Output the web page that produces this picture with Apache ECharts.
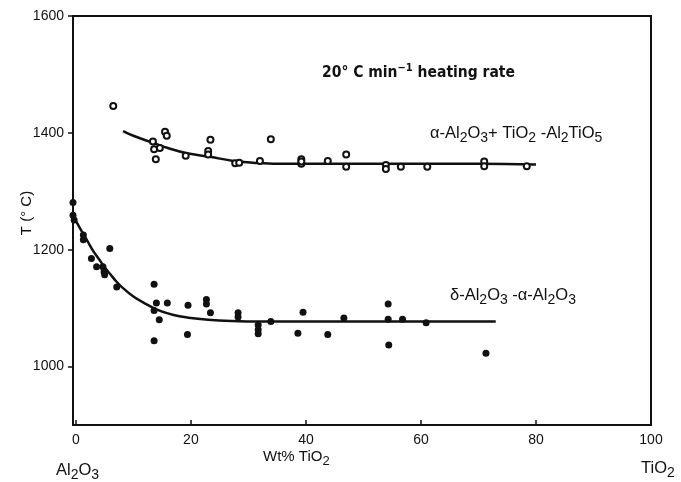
<!DOCTYPE html>
<html><head><meta charset="utf-8">
<script src="https://cdn.jsdelivr.net/npm/echarts@6/dist/echarts.min.js"></script>
<style>html,body{margin:0;padding:0;background:#fff}#c{width:681px;height:482px}</style>
</head><body><div id="c"></div>
<script>
// Open circles: α-Al2O3 + TiO2 -> Al2TiO5
const openX = [6.5, 13.4, 13.6, 13.9, 14.6, 15.5, 15.8, 19.1, 23.0, 23.0, 23.4, 27.7, 28.4, 32.0, 33.9, 39.2, 39.2, 39.2, 43.8, 47.0, 47.0, 53.9, 53.9, 56.5, 61.1, 71.0, 71.0, 78.4];
const openY = [1446, 1385, 1372, 1355, 1374, 1402, 1395, 1361, 1369, 1363, 1388, 1348, 1349, 1352, 1389, 1355, 1347, 1351, 1352, 1363, 1342, 1345, 1338, 1342, 1342, 1351, 1343, 1343];
// Filled circles: δ-Al2O3 -> α-Al2O3
const fillX = [-0.5, -0.5, -0.3, 1.3, 1.3, 2.7, 3.6, 4.7, 4.9, 5.0, 5.9, 7.1, 13.6, 14.0, 13.6, 14.5, 13.6, 15.9, 19.5, 19.4, 22.7, 22.7, 23.4, 28.2, 28.2, 31.7, 31.7, 31.7, 33.9, 39.5, 38.6, 43.8, 46.6, 54.3, 54.3, 54.4, 56.8, 60.9, 71.3];
const fillY = [1281, 1259, 1251, 1225, 1217, 1185, 1171, 1171, 1162, 1157, 1202, 1136, 1141, 1109, 1096, 1080, 1044, 1109, 1105, 1055, 1115, 1107, 1092, 1092, 1085, 1071, 1063, 1056, 1077, 1093, 1057, 1055, 1083, 1107, 1081, 1037, 1081, 1075, 1023];
// Fitted curves
const upperCurveX = [8.2, 10, 13.4, 16, 19.3, 23.3, 27.4, 30.8, 35, 40, 50, 60, 70, 80];
const upperCurveY = [1403, 1395, 1383, 1374, 1365, 1359, 1352, 1349, 1347, 1347, 1347, 1347, 1347, 1346];
const lowerCurveX = [-0.5, 1, 2, 3, 4, 5, 6, 7, 8, 10, 12, 14, 16, 18, 20, 23, 27, 32, 40, 50, 60, 73];
const lowerCurveY = [1258, 1232, 1215, 1198, 1184, 1170, 1158, 1146, 1136, 1120, 1108, 1098, 1091, 1086, 1083, 1080, 1078, 1077, 1077, 1077, 1077, 1077];
// Tick labels
const xTicks = [0, 20, 40, 60, 80, 100];
const yTicks = [1000, 1200, 1400, 1600];

const zip = (a, b) => a.map((v, i) => [v, b[i]]);
const INK = '#111';
const FONT = 'Liberation Sans, Arial, sans-serif';
const sub = { fontSize: 13, fontFamily: FONT, fill: INK, padding: [9, 0, 0, 0] };
const base = { fontSize: 15, fontFamily: FONT, fill: INK };
const subL = { fontSize: 14, fontFamily: FONT, fill: INK, padding: [10, 0, 0, 0] };
const baseL = { fontSize: 16.5, fontFamily: FONT, fill: INK };

const chart = echarts.init(document.getElementById('c'));
chart.setOption({
  animation: false,
  backgroundColor: '#fff',
  grid: { left: 73, right: 30, top: 16, bottom: 57, show: true, borderColor: INK, borderWidth: 2 },
  xAxis: {
    type: 'value', min: -0.5, max: 100,
    splitLine: { show: false },
    axisLine: { onZero: false, lineStyle: { color: INK, width: 2 } },
    axisTick: { inside: true, length: 5, lineStyle: { color: INK, width: 1.5 }, customValues: xTicks },
    axisLabel: { color: INK, fontSize: 14, fontFamily: FONT, margin: 8, customValues: xTicks,
      formatter: v => String(v) }
  },
  yAxis: {
    type: 'value', min: 900, max: 1600,
    splitLine: { show: false },
    axisLine: { onZero: false, lineStyle: { color: INK, width: 2 } },
    axisTick: { inside: false, length: 5, lineStyle: { color: INK, width: 1.5 }, customValues: yTicks },
    axisLabel: { color: INK, fontSize: 14, fontFamily: FONT, margin: 9, customValues: yTicks,
      formatter: v => String(v) }
  },
  series: [
    { type: 'line', data: zip(upperCurveX, upperCurveY), smooth: 0.4, showSymbol: false,
      lineStyle: { color: INK, width: 2.5 }, z: 2 },
    { type: 'line', data: zip(lowerCurveX, lowerCurveY), smooth: 0.4, showSymbol: false,
      lineStyle: { color: INK, width: 2.5 }, z: 2 },
    { type: 'scatter', data: zip(openX, openY), symbol: 'emptyCircle', symbolSize: 6,
      itemStyle: { color: INK, borderColor: INK, borderWidth: 1.6, opacity: 1 }, z: 3 },
    { type: 'scatter', data: zip(fillX, fillY), symbol: 'circle', symbolSize: 7,
      itemStyle: { color: INK, opacity: 1 }, z: 3 }
  ],
  graphic: [
    { type: 'text', left: 322, top: 63, style: {
      text: '{b|20° C min}{sup|−1}{b| heating rate}',
      rich: {
        b: { fontSize: 15.5, fontWeight: 'bold', fontFamily: 'DejaVu Sans Condensed, DejaVu Sans', fill: INK },
        sup: { fontSize: 11, fontWeight: 'bold', fontFamily: 'DejaVu Sans Condensed, DejaVu Sans', fill: INK, padding: [0, 0, 9, 0] }
      } } },
    { type: 'text', left: 430, top: 125, style: {
      text: '{a|α-Al}{s|2}{a|O}{s|3}{a|+ TiO}{s|2}{a| -Al}{s|2}{a|TiO}{s|5}',
      rich: { a: baseL, s: subL } } },
    { type: 'text', left: 450, top: 287, style: {
      text: '{a|δ-Al}{s|2}{a|O}{s|3}{a| -α-Al}{s|2}{a|O}{s|3}',
      rich: { a: baseL, s: subL } } },
    { type: 'text', left: 263, top: 449, style: {
      text: '{a|Wt% TiO}{s|2}', rich: { a: base, s: sub } } },
    { type: 'text', left: 56, top: 462, style: {
      text: '{a|Al}{s|2}{a|O}{s|3}', rich: { a: baseL, s: subL } } },
    { type: 'text', left: 641, top: 460, style: {
      text: '{a|TiO}{s|2}', rich: { a: baseL, s: subL } } },
    { type: 'text', x: 27, y: 213, rotation: Math.PI / 2, style: {
      text: 'T (° C)', fontSize: 15, fontFamily: FONT, fill: INK, align: 'center', verticalAlign: 'middle' } }
  ]
});
</script></body></html>
